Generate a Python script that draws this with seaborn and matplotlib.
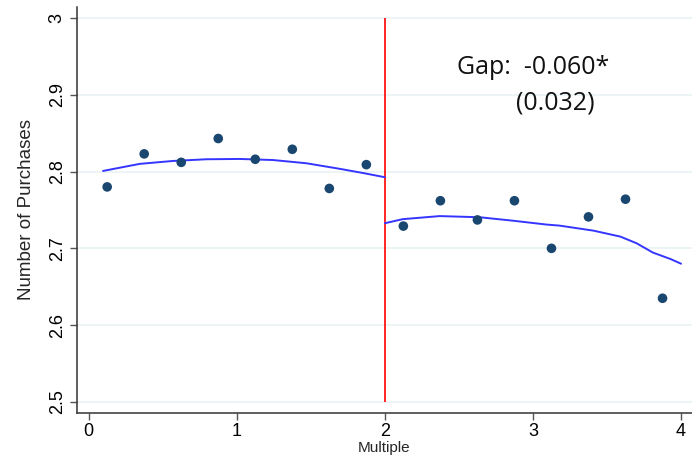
import matplotlib
matplotlib.use("Agg")
import matplotlib.pyplot as plt
import seaborn as sns
import pandas as pd

# Binned means of purchases by multiple
bin_x = [0.125, 0.375, 0.625, 0.875, 1.125, 1.375, 1.625, 1.875,
         2.125, 2.375, 2.625, 2.875, 3.125, 3.375, 3.625, 3.875]
bin_y = [2.780, 2.823, 2.812, 2.843, 2.816, 2.829, 2.778, 2.809,
         2.729, 2.762, 2.737, 2.762, 2.700, 2.741, 2.764, 2.635]

# Smoothed fit on each side of the threshold
fit_left_x = [0.097, 0.345, 0.57, 0.795, 1.02, 1.245, 1.47, 1.70, 1.855, 2.0]
fit_left_y = [2.8008, 2.810, 2.8138, 2.816, 2.8164, 2.815, 2.8108, 2.8034, 2.798, 2.7926]
fit_right_x = [2.0, 2.12, 2.37, 2.64, 2.865, 3.09, 3.18, 3.41, 3.59, 3.70, 3.81, 3.93, 4.0]
fit_right_y = [2.7327, 2.738, 2.742, 2.7405, 2.736, 2.731, 2.7296, 2.723, 2.7153,
               2.7066, 2.6945, 2.686, 2.680]

threshold = 2.0
gap_label = "Gap:  -0.060*"
se_label = "(0.032)"

x_ticks = [0, 1, 2, 3, 4]
y_ticks = [2.5, 2.6, 2.7, 2.8, 2.9, 3.0]
y_tick_labels = ["2.5", "2.6", "2.7", "2.8", "2.9", "3"]

sns.set_theme(style="white")
plt.rcParams["font.family"] = ["Liberation Sans", "DejaVu Sans"]

fig = plt.figure(figsize=(6.92, 4.65), dpi=100)
ax = fig.add_axes([0.111, 0.112, 0.889, 0.873])

for yv in y_ticks:
    ax.axhline(yv, color="#eaf2f3", lw=1.2, zorder=0)

pts = pd.DataFrame({"x": bin_x, "y": bin_y})
left = pd.DataFrame({"x": fit_left_x, "y": fit_left_y})
right = pd.DataFrame({"x": fit_right_x, "y": fit_right_y})

line_kw = dict(color="#3535ff", lw=1.4, zorder=3)
sns.lineplot(data=left, x="x", y="y", ax=ax, **line_kw)
sns.lineplot(data=right, x="x", y="y", ax=ax, **line_kw)
sns.scatterplot(data=pts, x="x", y="y", ax=ax, color="#1a476f", s=48,
                edgecolor="none", zorder=4)
ax.vlines(threshold, 2.5, 3.0, color="#ff0000", lw=1.2, zorder=2)

note_font = dict(fontsize=18, va="center", ha="left",
                 family=["Open Sans", "DejaVu Sans"], color="#111111")
ax.text(2.49, 2.935, gap_label, **note_font)
ax.text(2.885, 2.889, se_label, **note_font)

ax.set_xlim(-0.08, 4.074)
ax.set_ylim(2.4857, 3.0143)
ax.set_xticks(x_ticks)
ax.set_yticks(y_ticks)
ax.set_yticklabels(y_tick_labels, rotation=90, va="center")
ax.tick_params(axis="both", direction="out", length=5, width=1, color="#555555",
               labelsize=13, labelcolor="#000000", left=True, bottom=True)
ax.tick_params(axis="x", pad=2)
ax.tick_params(axis="y", pad=3)

for side in ["top", "right"]:
    ax.spines[side].set_visible(False)
for side in ["left", "bottom"]:
    ax.spines[side].set_color("#333333")
    ax.spines[side].set_linewidth(1.1)

ax.set_xlabel("Multiple", fontsize=11, labelpad=1)
ax.set_ylabel("Number of Purchases", fontsize=13.5, labelpad=10)

fig.savefig("out.png", dpi=100)
